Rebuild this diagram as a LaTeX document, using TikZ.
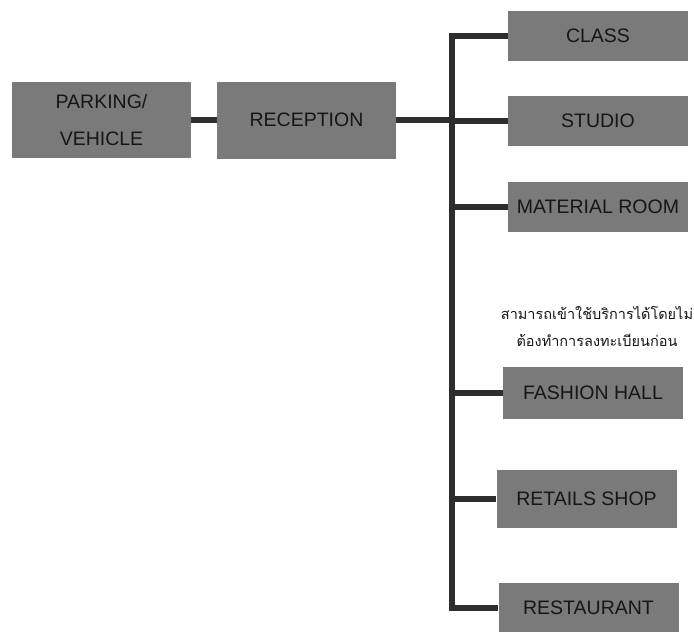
\documentclass[tikz,border=0pt]{standalone}
\usepackage{fontspec}
\setmainfont{Liberation Sans}
\newfontfamily\thaifont[Script=Thai]{Loma}
\usetikzlibrary{positioning}

\definecolor{boxgrey}{HTML}{7A7A7A}
\definecolor{inkgrey}{HTML}{161616}

\tikzset{
  room/.style={fill=boxgrey, text=inkgrey, font=\fontsize{19.5}{23}\selectfont,
    minimum width=180pt, inner sep=0pt, align=center},
  link/.style={draw=inkgrey!90, line width=6.5pt},
  note/.style={text=inkgrey, font=\thaifont\fontsize{14.5}{27}\selectfont, align=center}
}

\begin{document}
\begin{tikzpicture}[x=1pt, y=-1pt]
  \useasboundingbox (0, 0) rectangle (694, 632);

  \node[room, minimum width=179pt, minimum height=76pt] (parking) at (101.5, 120) {PARKING/\\[14pt]VEHICLE};
  \node[room, minimum width=179pt, minimum height=77pt] (reception) at (306.5, 120) {RECEPTION};

  \node[room, minimum height=50pt] (class) at (598, 36) {CLASS};
  \node[room, minimum height=50pt] (studio) at (598, 121) {STUDIO};
  \node[room, minimum height=50pt] (material) at (598, 207) {MATERIAL ROOM};
  \node[room, minimum height=52pt] (fashion) at (593, 393) {FASHION HALL};
  \node[room, minimum height=58pt] (retails) at (586.5, 499) {RETAILS SHOP};
  \node[room, minimum height=50pt] (restaurant) at (588.5, 608) {RESTAURANT};

  \node[note] (walkin) at (597, 327) {สามารถเข้าใช้บริการได้โดยไม่\\ต้องทำการลงทะเบียนก่อน};

  \coordinate (bus) at (452, 0);

  \draw[link] (parking.east) -- (reception.west);
  \draw[link] (reception.east) -- (reception.east -| bus);
  \draw[link] ([yshift=-3.25pt]bus |- class.west) -- (bus |- restaurant.west);
  \foreach \room in {class, studio, material, fashion, retails, restaurant}
    \draw[link] ([xshift=-3.25pt]bus |- \room.west) -- (\room.west);
\end{tikzpicture}
\end{document}
